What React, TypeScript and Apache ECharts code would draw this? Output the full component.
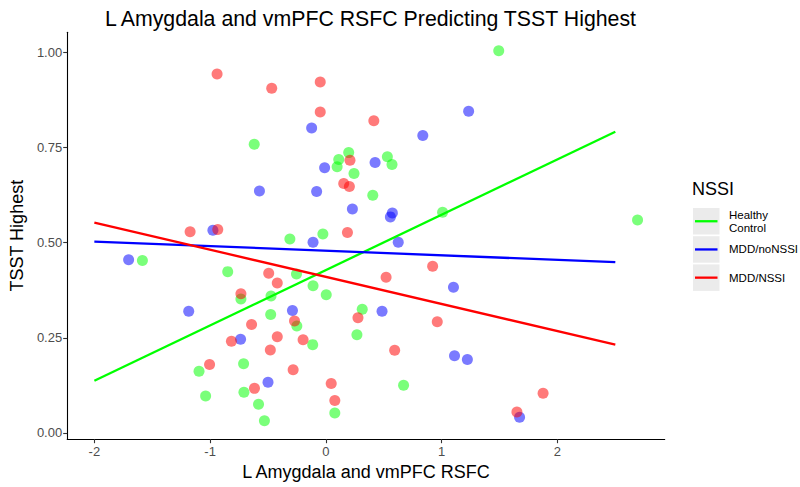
import React, { useEffect, useRef } from "react";
import * as echarts from "echarts";

// ---- data ----
const seriesNames = ["Healthy Control", "MDD/noNSSI", "MDD/NSSI"];
const seriesColors = ["#00FF00", "#0000FF", "#FF0000"];

const healthyControl: [number, number][] = [
  [-0.619, 0.759], [0.197, 0.737], [0.111, 0.719], [0.097, 0.7], [0.243, 0.682],
  [0.531, 0.726], [0.571, 0.706], [0.405, 0.625], [1.008, 0.58], [-0.026, 0.523],
  [-0.311, 0.51], [1.493, 1.005], [2.692, 0.56], [-1.585, 0.453], [-0.848, 0.424],
  [-0.734, 0.352], [-0.474, 0.36], [-0.477, 0.311], [-1.096, 0.162], [-0.711, 0.182],
  [-0.708, 0.107], [-1.039, 0.097], [-0.582, 0.075], [-0.531, 0.032], [-0.254, 0.418],
  [-0.111, 0.387], [0.003, 0.363], [-0.251, 0.281], [0.314, 0.325], [-0.114, 0.232],
  [0.268, 0.258], [0.077, 0.052], [0.671, 0.125],
];

const mddNoNssi: [number, number][] = [
  [-0.574, 0.636], [-0.976, 0.533], [-0.123, 0.802], [1.233, 0.846], [0.837, 0.782],
  [-0.011, 0.697], [0.425, 0.711], [-0.08, 0.635], [0.229, 0.589], [0.574, 0.578],
  [0.557, 0.568], [-1.704, 0.455], [-1.185, 0.32], [-0.737, 0.246], [-0.5, 0.133],
  [-0.111, 0.501], [0.625, 0.501], [1.102, 0.383], [-0.289, 0.322], [0.485, 0.32],
  [1.111, 0.203], [1.222, 0.193], [1.673, 0.041],
];

const mddNssi: [number, number][] = [
  [-0.94, 0.944], [-0.468, 0.906], [-1.173, 0.529], [-0.934, 0.535], [-0.049, 0.923],
  [-0.049, 0.844], [0.414, 0.821], [0.208, 0.717], [0.154, 0.656], [0.203, 0.648],
  [0.186, 0.527], [-0.494, 0.42], [-0.734, 0.366], [-0.642, 0.285], [-0.816, 0.241],
  [-0.48, 0.218], [-1.005, 0.18], [-0.617, 0.117], [-0.42, 0.394], [0.52, 0.409],
  [0.922, 0.438], [-0.271, 0.294], [0.277, 0.303], [0.962, 0.292], [-0.42, 0.253],
  [-0.197, 0.245], [0.594, 0.217], [-0.283, 0.166], [0.046, 0.13], [0.077, 0.085],
  [1.876, 0.104], [1.65, 0.055],
];

// fitted regression lines (start and end points)
const fitHealthy: [number, number][] = [[-2, 0.137], [2.5, 0.792]];
const fitNoNssi: [number, number][] = [[-2, 0.503], [2.5, 0.449]];
const fitNssi: [number, number][] = [[-2, 0.553], [2.5, 0.232]];

const xTicks = [-2, -1, 0, 1, 2];
const yTicks = [0, 0.25, 0.5, 0.75, 1.0];

const FONT = "'Liberation Sans', Arial, Helvetica, sans-serif";

export default function App() {
  const ref = useRef<HTMLDivElement>(null);

  useEffect(() => {
    if (!ref.current) return;
    const chart = echarts.init(ref.current, undefined, { renderer: "svg" });

    const points = [healthyControl, mddNoNssi, mddNssi];
    const fits = [fitHealthy, fitNoNssi, fitNssi];

    const scatterSeries = points.map((d, i) => ({
      name: seriesNames[i],
      type: "scatter",
      data: d,
      symbol: "circle",
      symbolSize: 11,
      itemStyle: { color: seriesColors[i], opacity: 0.52 },
      z: 2,
    }));
    const lineSeries = fits.map((d, i) => ({
      name: seriesNames[i] + " fit",
      type: "line",
      data: d,
      showSymbol: false,
      symbol: "none",
      lineStyle: { color: seriesColors[i], width: 2.3 },
      z: 3,
    }));

    const legendTop = 208;
    const step = 28.2;
    const legendGraphics: any[] = [
      {
        type: "text",
        left: 692,
        top: 180,
        style: { text: "NSSI", fontSize: 18, fontFamily: FONT, fill: "#000" },
      },
    ];
    const labels = ["Healthy\nControl", "MDD/noNSSI", "MDD/NSSI"];
    labels.forEach((lab, i) => {
      const y = legendTop + i * step;
      legendGraphics.push({
        type: "rect",
        shape: { x: 693, y, width: 26.5, height: 26.5 },
        style: { fill: "#EBEBEB" },
      });
      legendGraphics.push({
        type: "line",
        shape: { x1: 695, y1: y + 13.25, x2: 717.5, y2: y + 13.25 },
        style: { stroke: seriesColors[i], lineWidth: 2.3 },
      });
      legendGraphics.push({
        type: "text",
        x: 729,
        y: y + 13.25,
        style: {
          text: lab,
          fontSize: 11.5,
          lineHeight: 13.5,
          fontFamily: FONT,
          fill: "#000",
          verticalAlign: "middle",
          align: "left",
        },
      });
    });

    chart.setOption({
      animation: false,
      backgroundColor: "#fff",
      title: {
        text: "L Amygdala and vmPFC RSFC Predicting TSST Highest",
        left: 365.5,
        top: 3,
        textAlign: "center",
        textStyle: { fontSize: 21.3, fontWeight: "normal", color: "#000", fontFamily: FONT },
      },
      grid: { left: 62, right: 135.3, top: 32.2, bottom: 47.8, containLabel: false },
      xAxis: {
        type: "value",
        min: -2.2346,
        max: 2.9266,
        name: "L Amygdala and vmPFC RSFC",
        nameLocation: "middle",
        nameGap: 23,
        nameTextStyle: { fontSize: 18, color: "#000", fontFamily: FONT },
        axisLine: { show: true, onZero: false, lineStyle: { color: "#000", width: 1.1 } },
        axisTick: { show: true, length: 4, customValues: xTicks, lineStyle: { color: "#333", width: 1.1 } },
        axisLabel: {
          customValues: xTicks,
          fontSize: 13,
          color: "#4D4D4D",
          fontFamily: FONT,
          margin: 6,
          formatter: (v: number) => String(v),
        },
        splitLine: { show: false },
      },
      yAxis: {
        type: "value",
        min: -0.0167,
        max: 1.0537,
        name: "TSST Highest",
        nameLocation: "middle",
        nameGap: 40,
        nameRotate: 90,
        nameTextStyle: { fontSize: 18, color: "#000", fontFamily: FONT },
        axisLine: { show: true, onZero: false, lineStyle: { color: "#000", width: 1.1 } },
        axisTick: { show: true, length: 4, customValues: yTicks, lineStyle: { color: "#333", width: 1.1 } },
        axisLabel: {
          customValues: yTicks,
          fontSize: 13,
          color: "#4D4D4D",
          fontFamily: FONT,
          margin: 5,
          formatter: (v: number) => v.toFixed(2),
        },
        splitLine: { show: false },
      },
      graphic: legendGraphics,
      series: [...scatterSeries, ...lineSeries],
    });

    return () => chart.dispose();
  }, []);

  return (
    <div
      ref={ref}
      style={{ position: "absolute", left: 0, top: 0, width: 800, height: 487, background: "#fff" }}
    />
  );
}
